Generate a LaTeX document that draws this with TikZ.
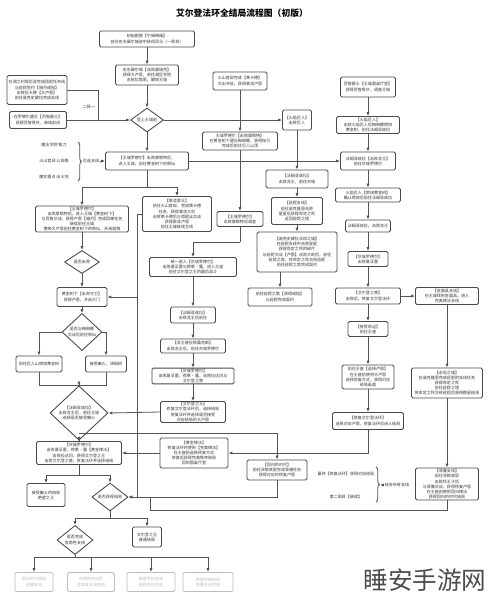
\documentclass[tikz,border=0pt]{standalone}
\usepackage{fontspec}
\setmainfont{Noto Sans CJK SC}
\usetikzlibrary{arrows.meta, shapes.geometric, calc, decorations.pathreplacing}
\definecolor{cLine}{HTML}{555555}
\definecolor{cBox}{HTML}{4A4A4A}
\definecolor{cText}{HTML}{333333}
\definecolor{cFade}{HTML}{BDBDBD}
\newcommand{\bxfont}{\fontsize{2.3}{2.9}\selectfont}
\tikzset{
  stepbox/.style 2 args={
    draw=cBox, line width=0.5pt,
    rounded corners=0.8pt,
    fill=white, text=cText,
    align=center, inner sep=0.5pt,
    minimum width=#1*0.02cm,
    minimum height=#2*0.02cm,
    font=\bxfont
  },
  fadebox/.style 2 args={
    stepbox={#1}{#2},
    draw=cFade, text=cFade
  },
  decision/.style 2 args={
    diamond, draw=cBox, line width=0.5pt,
    fill=white, text=cText,
    align=center, inner sep=0pt,
    minimum width=#1*0.02cm,
    minimum height=#2*0.02cm,
    font=\bxfont
  },
  chain/.style={
    -{Latex[length=2.2pt,width=1.8pt]},
    line width=0.45pt,
    draw=cLine
  },
  link/.style={
    line width=0.45pt,
    draw=cLine
  },
  sidelabel/.style={
    font=\bxfont, text=cText, inner sep=0.5pt
  }
}

\begin{document}
\begin{tikzpicture}[x=0.02cm, y=-0.02cm]
  \useasboundingbox[fill=white] (0,0) rectangle (488,600);

  \node[font=\fontsize{5}{6}\selectfont\bfseries, text=black] (ttl) at (242,13) {艾尔登法环全结局流程图（初版）};

  % upper left
  \node[stepbox={95}{16}] (start) at (147,39) {初始剧情【宁姆格福】\\前往史东薇尔城途中获得灵马（一周目）};
  \node[stepbox={63}{20}] (stormveil) at (147,75) {史东薇尔城【击败葛瑞克】\\获得大卢恩，前往湖区学院\\击败拉塔恩，解锁王城};
  \node[decision={33}{23}] (gate) at (147,120) {登上王城前};
  \node[stepbox={60}{29}] (ranni) at (37,90) {在湖之利耶尼亚完成菈妮任务线\\与菈妮签约【暗月戒指】\\击败拉卡德【大卢恩】\\前往诺克史黛拉完成支线};
  \node[stepbox={57}{17}] (sage) at (38,120) {在罗德尔遇见【百智爵士】\\获得百智骨灰，继续前进};
  \node[sidelabel] (pick) at (89,107) {二择一};
  \coordinate (jPick) at (98,120);

  % upper middle
  \node[stepbox={54}{18}] (manor) at (240,81) {火山官邸完成【莱卡德】\\交出书信，获得亵渎卢恩};
  \node[stepbox={29}{20}] (giant) at (297,120) {【火焰巨人】\\击败巨人};
  \node[stepbox={75}{18}] (leyndell) at (240,141) {王城罗德尔【击败摩根特】\\在黄金树下遇见梅琳娜，获得指引\\完成后前往巨人山顶};

  % upper right
  \node[stepbox={55}{20}] (roundtable) at (368,87) {百智爵士【王城圆桌厅堂】\\获得百智骨灰，调查王城};
  \node[stepbox={63}{17}] (burn) at (368,125) {【火焰巨人】\\击败火焰巨人后梅琳娜燃烧\\黄金树，前往法姆亚兹拉};
  \node[stepbox={55}{18}] (farum) at (368,161) {法姆亚兹拉【击败龙王】\\前往灰城罗德尔};

  % capital row
  \node[stepbox={83}{18}] (capital) at (147,161) {【王城罗德尔】击败摩根特后，\\进入王城，前往黄金树下的祭坛};
  \node[sidelabel] (opt1) at (54,145) {魔法学院 锻刀};
  \node[sidelabel] (opt2) at (54,161) {火山官邸 公会路};
  \node[sidelabel] (opt3) at (54,177) {魔女据点 出火地};
  \node[sidelabel] (optsum) at (91,161) {可选支线};
  \draw[link, decorate, decoration={brace, amplitude=2pt}] (78,142) -- (78,181);

  % left column
  \node[stepbox={93}{26}] (throne) at (82,219) {【王城罗德尔】\\击败摩根特后，进入王城【黄金树下】\\与百智交谈，获得卢恩【暗月】完成回廊任务\\继续前往王城\\携带大卢恩前往黄金树下的祭坛，开启剧情};
  \node[stepbox={69}{35}] (blasph) at (177,214) {【亵渎君王】\\前往火山官邸，完成莱卡德\\任务，获得亵渎大剑\\击败莱卡德后与塔妮丝交谈\\获得亵渎卢恩\\前往王城继续主线};
  \node[decision={35}{23}] (beat) at (82,262) {是否击败};
  \node[stepbox={50}{19}] (tree) at (82,297) {黄金树下【击败守卫】\\获得卢恩，开启大门};
  \node[decision={40}{25}] (talk) at (82,332) {是否与梅琳娜\\交谈后前往祭坛};
  \node[stepbox={46}{16}] (mount) at (39,364) {前往巨人山燃烧黄金树};
  \node[stepbox={41}{16}] (frenzy) at (106,364) {接受癫火，烧毁树};
  \coordinate (jUV) at (79,385);
  \node[decision={58}{32}] (choice) at (79,413) {【法姆亚兹拉】\\击败龙王后，前往王城\\选择是否接受癫火};
  \node[stepbox={85}{23}] (ashen) at (79,453) {【灰城罗德尔】\\击败葛孚雷，荷莱·露【黄金律法】\\击败拉达冈，获得艾尔登之王\\击败艾尔登之兽，修复法环并选择结局};
  \node[stepbox={38}{23}] (despair) at (46,495) {接受癫火的结局\\绝望之王};
  \node[decision={36}{23}] (ending) at (110,497) {是否获得结局};
  \node[decision={36}{21}] (quests) at (75,540) {是否完成\\各角色支线};
  \node[stepbox={29}{20}] (fracture) at (147,537) {艾尔登之王\\普通结局};
  \node[fadebox={38}{19}] (end1) at (34,582) {回归时代结局\\菲雅支线};
  \node[fadebox={47}{19}] (end2) at (91,582) {完美秩序结局\\金面具支线完成};
  \node[fadebox={48}{19}] (end3) at (151,582) {群星世纪结局\\菈妮支线完成};
  \node[fadebox={50}{19}] (end4) at (208,582) {绝望祝福结局\\菲雅支线完成};

  % middle column
  \node[stepbox={46}{15}] (morgott) at (240,219) {【王城罗德尔】\\击败摩根特后调查};
  \node[stepbox={87}{19}] (unite) at (193,267) {统一进入【灰城罗德尔】\\击败葛孚雷与荷莱·露，进入王座\\前往艾尔登之王的最后战斗};
  \node[stepbox={45}{16}] (dragon) at (193,315) {【法姆亚兹拉】\\击败龙王后前往};
  \node[stepbox={65}{14}] (placid) at (193,346) {【龙王普拉顿桑克斯】\\击败龙王后，前往灰城罗德尔};
  \node[stepbox={82}{15}] (godfrey) at (193,376) {【灰城罗德尔】\\击败葛孚雷、荷莱·露，击败拉达冈与\\艾尔登之兽};
  \node[stepbox={65}{21}] (eldenlord) at (193,412) {【艾尔登之王】\\修复艾尔登法环后，选择结局\\修复法环并选择是否接受\\对应结局的大卢恩};
  \node[stepbox={68}{30}] (golden) at (194,453) {【黄金律法】\\修复法环时使用【完美律法】\\在王座前选择修复方式\\修复后获得完美秩序结局\\回到圆桌厅堂};
  \node[stepbox={60}{20}] (duskborn) at (277,470) {【回归的时代】\\前往深根底层完成菲雅任务\\获得对应的修复卢恩};

  % ranni column
  \node[stepbox={62}{18}] (farum2) at (297,179) {【法姆亚兹拉】\\击败龙王，前往灰城};
  \node[stepbox={51}{27}] (star) at (297,211) {【菈妮支线】\\前往诺克隆恩击败\\星星后获得命定之死\\返回菈妮之塔};
  \node[stepbox={80}{40}] (nokron) at (297,252) {【诺克史黛拉永恒之城】\\在菈妮支线中击败星星\\获得命定之死的碎片\\与菈妮交谈【卢恩】击败大蛇后，前往\\菈妮之塔，将命定之死交给菈妮\\前往菈妮之塔完成契约};
  \node[stepbox={64}{18}] (tower) at (280,297) {前往菈妮之塔【获得戒指】\\与菈妮完成契约};

  % right column
  \node[stepbox={65}{14}] (burntree) at (368,195) {火焰巨人【燃烧黄金树】\\确认燃烧后前往法姆亚兹拉};
  \node[stepbox={45}{12}] (dragonlord) at (368,226) {法姆亚兹拉，击败龙王};
  \node[stepbox={40}{15}] (ashcity) at (368,259) {【灰城罗德尔】\\击败葛孚雷};
  \node[stepbox={65}{16}] (beast) at (368,296) {【艾尔登之兽】\\击败后，修复艾尔登法环};
  \node[stepbox={63}{17}] (goldmask) at (447,296) {【金面具支线】\\在王城找到金面具，进入\\完美律法支线};
  \node[stepbox={40}{15}] (fate) at (368,329) {【接受命运】\\前往王座};
  \node[stepbox={52}{24}] (rune) at (368,377) {前往王座【选择卢恩】\\在王座前使用大卢恩\\选择修复方式，获得对应\\结局画面};
  \node[stepbox={71}{17}] (mend) at (368,421) {【修复艾尔登法环】\\选择对应卢恩，修复法环后进入结局};
  \node[stepbox={71}{30}] (eternal) at (447,383) {【永恒之城】\\在诺克隆恩完成菈妮的支线任务\\获得命定之死\\前往菈妮之塔\\将命定之死交给菈妮后获得群星结局};
  \node[stepbox={63}{32}] (fia) at (447,484) {【菲雅支线】\\前往深根底层\\击败死王子后\\与菲雅交谈，获得修复卢恩\\在王座前使用回归律法\\获得回归的时代结局};
  \node[sidelabel] (note1) at (346,474) {最终【修复法环】\\获得对应结局};
  \node[sidelabel] (note2) at (346,497) {第二周目【继续】};
  \node[sidelabel] (notesum) at (397,485) {结合所有支线};
  \draw[link, decorate, decoration={brace, amplitude=2pt}] (376,467) -- (376,502);

  \node[font=\fontsize{14}{16}\selectfont, text=black!70] (wmark) at (425,580) {睡安手游网};

  % connectors
  \draw[chain] (start) -- (stormveil);
  \draw[chain] (stormveil) -- (gate);
  \draw[link] (ranni.east) -| (jPick);
  \draw[chain] (sage.east) -- (gate.west);
  \draw[chain] (gate.east) -- (giant.west);
  \draw[chain] (gate.south) -- (capital.north);
  \draw[chain] (manor) -- (leyndell);
  \draw[chain] (giant) -- (farum2);
  \draw[chain] (roundtable) -- (burn);
  \draw[chain] (burn) -- (farum);
  \draw[chain] (capital.east) -- (farum.west);
  \draw[chain] (optsum.east) -- (capital.west);
  \draw[chain] (leyndell) -- (morgott);

  \coordinate (jCap) at (147,187);
  \draw[link] (capital.south) -- (jCap);
  \draw[chain] (jCap) -| (throne.north);
  \draw[chain] (jCap) -| (blasph.north);

  \coordinate (jMor) at (240,242);
  \draw[link] (morgott.south) -- (jMor);
  \draw[chain] (jMor) -| (unite.north);
  \draw[chain] (unite) -- (dragon);
  \draw[chain] (dragon) -- (placid);
  \draw[chain] (placid) -- (godfrey);
  \draw[chain] (godfrey) -- (eldenlord);
  \draw[chain] (eldenlord.west) -- (choice.east);

  \draw[chain] (farum2) -- (star);
  \draw[chain] (star) -- (nokron);
  \draw[chain] (tower.north |- nokron.south) -- (tower.north);

  \draw[chain] (farum) -- (burntree);
  \draw[chain] (burntree) -- (dragonlord);
  \draw[chain] (dragonlord) -- (ashcity);
  \draw[chain] (ashcity) -- (beast);
  \draw[chain] (beast.east) -- (goldmask.west);
  \draw[chain] (beast) -- (fate);
  \draw[chain] (fate) -- (rune);
  \draw[chain] (rune) -- (mend);
  \draw[chain] (goldmask) -- (eternal);
  \draw[chain] (eternal) -- (fia);
  \draw[chain] (mend.south) |- (golden.east);
  \draw[chain] (golden.west) -- (ashen.east);

  \draw[chain] (throne) -- (beat);
  \draw[chain] (beat) -- (tree);
  \coordinate (tTop) at (137,214);
  \coordinate (tQ) at (137,297);
  \draw[link] (blasph.west) -- (tTop) -- (tQ);
  \draw[chain] (tQ) -- (tree.east);
  \draw[chain] (tQ) |- (ending.east);
  \draw[chain] (tree) -- (talk);
  \draw[chain] (talk.west) -| (mount.north);
  \draw[chain] (talk.east) -| (frenzy.north);
  \draw[link] (mount.south) |- (jUV);
  \draw[link] (frenzy.south) |- (jUV);
  \draw[chain] (jUV) -- (choice.north);
  \draw[chain] (choice) -- (ashen);
  \coordinate (jCho) at (79,433);
  \draw[chain] (jCho) -| (duskborn.north);
  \coordinate (jAsh) at (79,475);
  \draw[link] (ashen.south) -- (jAsh);
  \draw[chain] (jAsh) -| (despair.north);
  \draw[chain] (jAsh) -| (ending.north);
  \draw[chain] (duskborn.south) |- (ending.east);
  \coordinate (jFia) at (150,510);
  \draw[link] (fia.south) |- (jFia) -- (150,497);
  \draw[chain] (notesum.west) -- (380,485);

  \coordinate (jEnd) at (110,518);
  \draw[link] (ending.south) -- (jEnd);
  \draw[chain] (jEnd) -| (quests.north);
  \draw[chain] (jEnd) -| (fracture.north);
  \coordinate (jQue) at (75,557);
  \draw[link] (quests.south) -- (jQue);
  \draw[link] (end1.north |- jQue) -- (end4.north |- jQue);
  \foreach \e in {end1,end2,end3,end4}
    \draw[chain] (\e.north |- jQue) -- (\e.north);
\end{tikzpicture}
\end{document}
